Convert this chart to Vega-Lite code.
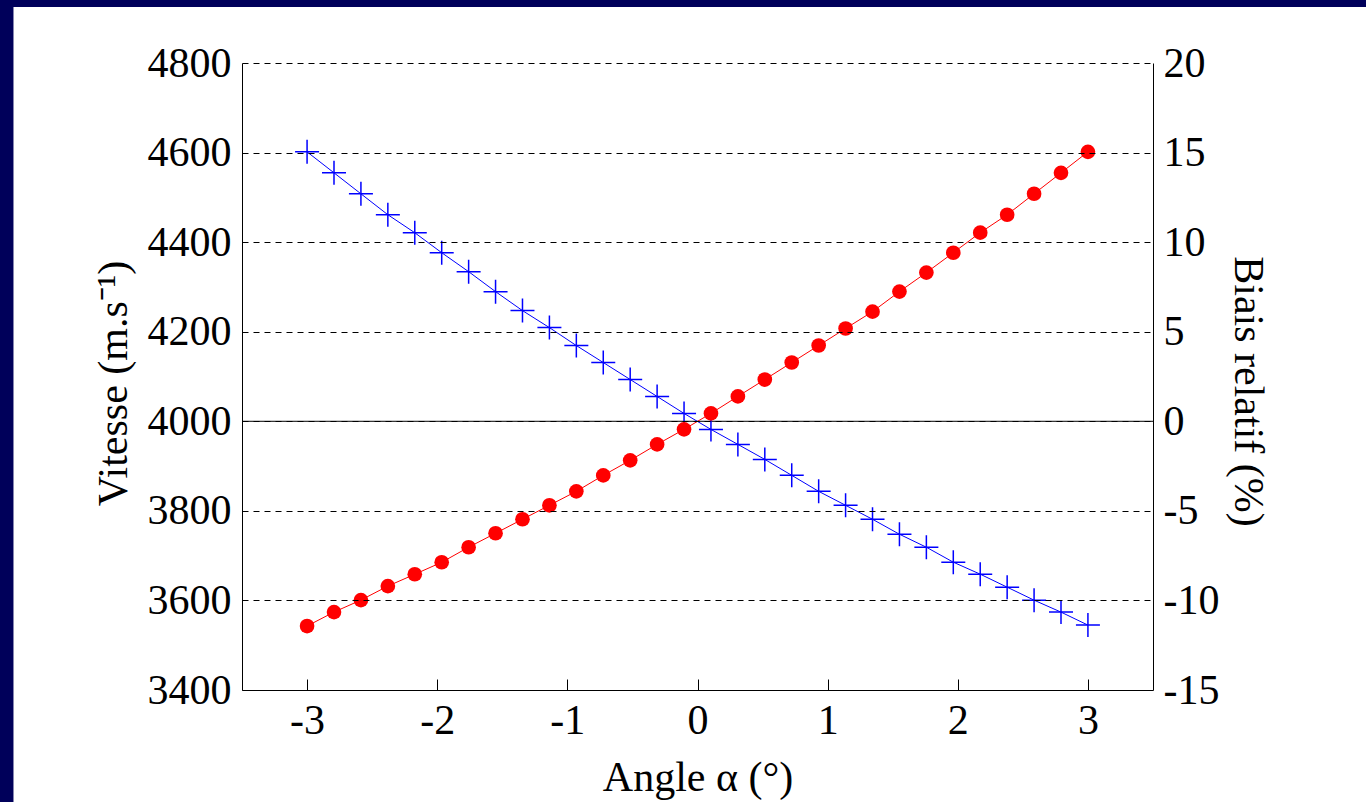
{
  "$schema": "https://vega.github.io/schema/vega-lite/v6.json",
  "width": 911,
  "height": 627,
  "autosize": "none",
  "padding": {"left": 242, "top": 63, "right": 213, "bottom": 112},
  "background": "#00005a",
  "config": {
    "view": {"stroke": null},
    "font": "Liberation Serif",
    "axis": {
      "labelFont": "Liberation Serif",
      "labelFontSize": 42,
      "labelColor": "black",
      "titleFont": "Liberation Serif",
      "titleFontSize": 42,
      "titleFontWeight": "normal",
      "titleColor": "black",
      "domainColor": "black",
      "domainWidth": 1,
      "tickColor": "black",
      "gridColor": "black",
      "gridDash": [6, 5],
      "gridWidth": 1,
      "labelOverlap": false,
      "labelFlush": false
    }
  },
  "datasets": {
    "series": [
      {"angle": -3.0, "vitesse": 4601.6, "biais": -11.43},
      {"angle": -2.7931, "vitesse": 4554.8, "biais": -10.65},
      {"angle": -2.5862, "vitesse": 4507.9, "biais": -9.98},
      {"angle": -2.3793, "vitesse": 4461.2, "biais": -9.2},
      {"angle": -2.1724, "vitesse": 4421.0, "biais": -8.54},
      {"angle": -1.9655, "vitesse": 4376.4, "biais": -7.87},
      {"angle": -1.7586, "vitesse": 4334.1, "biais": -7.03},
      {"angle": -1.5517, "vitesse": 4289.5, "biais": -6.25},
      {"angle": -1.3448, "vitesse": 4247.1, "biais": -5.47},
      {"angle": -1.1379, "vitesse": 4209.2, "biais": -4.69},
      {"angle": -0.931, "vitesse": 4169.1, "biais": -3.91},
      {"angle": -0.7241, "vitesse": 4131.2, "biais": -3.02},
      {"angle": -0.5172, "vitesse": 4093.3, "biais": -2.18},
      {"angle": -0.3103, "vitesse": 4055.4, "biais": -1.29},
      {"angle": -0.1034, "vitesse": 4017.5, "biais": -0.45},
      {"angle": 0.1034, "vitesse": 3981.8, "biais": 0.44},
      {"angle": 0.3103, "vitesse": 3948.4, "biais": 1.39},
      {"angle": 0.5172, "vitesse": 3914.9, "biais": 2.33},
      {"angle": 0.7241, "vitesse": 3879.3, "biais": 3.28},
      {"angle": 0.931, "vitesse": 3843.6, "biais": 4.23},
      {"angle": 1.1379, "vitesse": 3812.4, "biais": 5.18},
      {"angle": 1.3448, "vitesse": 3781.2, "biais": 6.12},
      {"angle": 1.5517, "vitesse": 3747.8, "biais": 7.24},
      {"angle": 1.7586, "vitesse": 3718.8, "biais": 8.3},
      {"angle": 1.9655, "vitesse": 3685.4, "biais": 9.41},
      {"angle": 2.1724, "vitesse": 3658.6, "biais": 10.53},
      {"angle": 2.3793, "vitesse": 3629.6, "biais": 11.53},
      {"angle": 2.5862, "vitesse": 3600.6, "biais": 12.7},
      {"angle": 2.7931, "vitesse": 3573.9, "biais": 13.87},
      {"angle": 3.0, "vitesse": 3544.9, "biais": 15.04}
    ],
    "panel": [{"xa": -5.256, "xb": 7, "ya": 4925, "yb": 3000}],
    "reference": [{"level": 4000}]
  },
  "layer": [
    {
      "layer": [
        {
          "data": {"name": "panel"},
          "mark": {"type": "rect", "color": "white", "clip": false},
          "encoding": {
            "x": {"field": "xa", "type": "quantitative", "scale": {"domain": [-3.5, 3.5], "nice": false, "zero": false},
              "axis": {"zindex": 1, "title": "Angle α (°)", "values": [-3, -2, -1, 0, 1, 2, 3], "labelExpr": "'' + datum.value", "grid": false, "ticks": true, "tickSize": -11, "labelPadding": 21, "titlePadding": 16}},
            "x2": {"field": "xb"},
            "y": {"field": "ya", "type": "quantitative", "scale": {"domain": [3400, 4800], "nice": false, "zero": false},
              "axis": {"zindex": 1, "title": "Vitesse (m.s⁻¹)", "values": [3400, 3600, 3800, 4000, 4200, 4400, 4600, 4800], "labelExpr": "'' + datum.value", "grid": true, "ticks": false, "labelPadding": 11, "titlePadding": 12, "titleY": 320}},
            "y2": {"field": "yb"}
          }
        },
        {
          "data": {"name": "reference"},
          "mark": {"type": "rule", "color": "black", "strokeWidth": 1},
          "encoding": {
            "y": {"field": "level", "type": "quantitative", "scale": {"domain": [3400, 4800], "nice": false, "zero": false},
              "axis": {"zindex": 1, "title": "Vitesse (m.s⁻¹)", "values": [3400, 3600, 3800, 4000, 4200, 4400, 4600, 4800], "labelExpr": "'' + datum.value", "grid": true, "ticks": false, "labelPadding": 11, "titlePadding": 12, "titleY": 320}}
          }
        },
        {
          "data": {"name": "series"},
          "mark": {"type": "line", "color": "#0000ff", "strokeWidth": 1},
          "encoding": {
            "x": {"field": "angle", "type": "quantitative", "scale": {"domain": [-3.5, 3.5], "nice": false, "zero": false},
              "axis": {"zindex": 1, "title": "Angle α (°)", "values": [-3, -2, -1, 0, 1, 2, 3], "labelExpr": "'' + datum.value", "grid": false, "ticks": true, "tickSize": -11, "labelPadding": 21, "titlePadding": 16}},
            "y": {"field": "vitesse", "type": "quantitative", "scale": {"domain": [3400, 4800], "nice": false, "zero": false},
              "axis": {"zindex": 1, "title": "Vitesse (m.s⁻¹)", "values": [3400, 3600, 3800, 4000, 4200, 4400, 4600, 4800], "labelExpr": "'' + datum.value", "grid": true, "ticks": false, "labelPadding": 11, "titlePadding": 12, "titleY": 320}}
          }
        },
        {
          "data": {"name": "series"},
          "mark": {"type": "point", "shape": "M-1,0L1,0M0,-1L0,1", "size": 576, "filled": false, "color": "#0000ff", "strokeWidth": 1.5, "opacity": 1},
          "encoding": {
            "x": {"field": "angle", "type": "quantitative", "scale": {"domain": [-3.5, 3.5], "nice": false, "zero": false},
              "axis": {"zindex": 1, "title": "Angle α (°)", "values": [-3, -2, -1, 0, 1, 2, 3], "labelExpr": "'' + datum.value", "grid": false, "ticks": true, "tickSize": -11, "labelPadding": 21, "titlePadding": 16}},
            "y": {"field": "vitesse", "type": "quantitative", "scale": {"domain": [3400, 4800], "nice": false, "zero": false},
              "axis": {"zindex": 1, "title": "Vitesse (m.s⁻¹)", "values": [3400, 3600, 3800, 4000, 4200, 4400, 4600, 4800], "labelExpr": "'' + datum.value", "grid": true, "ticks": false, "labelPadding": 11, "titlePadding": 12, "titleY": 320}}
          }
        }
      ]
    },
    {
      "data": {"name": "series"},
      "layer": [
        {
          "mark": {"type": "line", "color": "#ff0000", "strokeWidth": 1},
          "encoding": {
            "x": {"field": "angle", "type": "quantitative", "scale": {"domain": [-3.5, 3.5], "nice": false, "zero": false},
              "axis": {"zindex": 1, "title": "Angle α (°)", "values": [-3, -2, -1, 0, 1, 2, 3], "labelExpr": "'' + datum.value", "grid": false, "ticks": true, "tickSize": -11, "labelPadding": 21, "titlePadding": 16}},
            "y": {"field": "biais", "type": "quantitative", "scale": {"domain": [-15, 20], "nice": false, "zero": false},
              "axis": {"zindex": 1, "orient": "right", "title": "Biais relatif (%)", "values": [-15, -10, -5, 0, 5, 10, 15, 20], "labelExpr": "'' + datum.value", "grid": false, "ticks": false, "labelPadding": 10, "titlePadding": 7, "titleY": 328}}
          }
        },
        {
          "mark": {"type": "circle", "size": 215, "color": "#ff0000", "opacity": 1},
          "encoding": {
            "x": {"field": "angle", "type": "quantitative", "scale": {"domain": [-3.5, 3.5], "nice": false, "zero": false},
              "axis": {"zindex": 1, "title": "Angle α (°)", "values": [-3, -2, -1, 0, 1, 2, 3], "labelExpr": "'' + datum.value", "grid": false, "ticks": true, "tickSize": -11, "labelPadding": 21, "titlePadding": 16}},
            "y": {"field": "biais", "type": "quantitative", "scale": {"domain": [-15, 20], "nice": false, "zero": false},
              "axis": {"zindex": 1, "orient": "right", "title": "Biais relatif (%)", "values": [-15, -10, -5, 0, 5, 10, 15, 20], "labelExpr": "'' + datum.value", "grid": false, "ticks": false, "labelPadding": 10, "titlePadding": 7, "titleY": 328}}
          }
        }
      ]
    }
  ],
  "resolve": {"scale": {"y": "independent"}}
}
